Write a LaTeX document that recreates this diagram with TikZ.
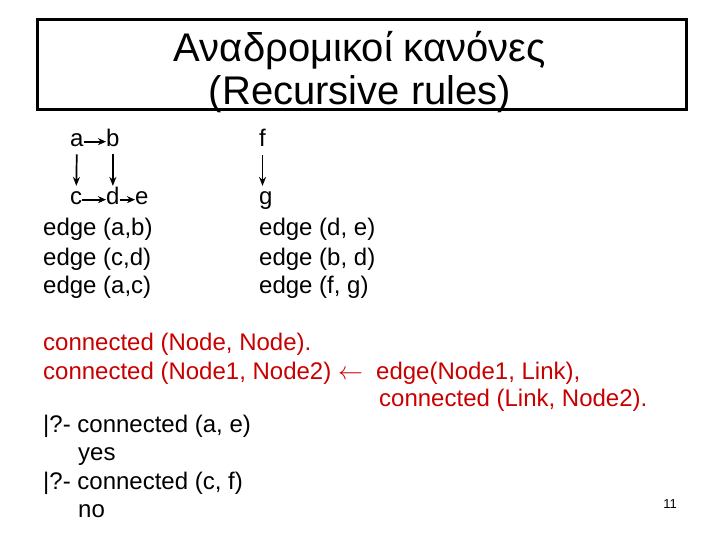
\documentclass[tikz,border=0pt]{standalone}
\usepackage{fontspec}
\setmainfont{Liberation Sans}
\usetikzlibrary{arrows.meta}
\definecolor{rulered}{RGB}{200,0,0}
\tikzset{
  txt/.style={anchor=base west, inner sep=0pt, font=\fontsize{24}{29}\selectfont},
  letter/.style={txt},
  red txt/.style={txt, text=rulered},
  title/.style={anchor=base, inner sep=0pt, font=\fontsize{40}{46}\selectfont},
  down/.style={-{Stealth[length=9pt,width=7pt]}, line width=1.7pt, shorten <=7pt, shorten >=6pt},
  side/.style={-{Stealth[length=8pt,width=7pt]}, line width=1.7pt}
}
\begin{document}
\begin{tikzpicture}[x=1pt,y=-1pt]
\useasboundingbox (0,0) rectangle (720,540);
% title box
\draw[line width=3pt] (37,20) rectangle (686,110);
\node[title] (t1) at (360,62) {Αναδρομικοί κανόνες};
\node[title] (t2) at (360,105) {(Recursive rules)};
% graph
\node[letter] (a) at (70,147) {a};
\node[letter] (b) at (106,147) {b};
\node[letter] (c) at (70,205) {c};
\node[letter] (d) at (106,205) {d};
\node[letter] (e) at (135,205) {e};
\node[letter] (f) at (259,147) {f};
\node[letter] (g) at (259,205) {g};
\draw[side] ([yshift=-1pt]a.east) -- ([yshift=-1pt]a.east -| b.west);
\draw[side] ([yshift=-1pt]c.east) -- ([yshift=-1pt]c.east -| d.west);
\draw[side] ([yshift=-1pt]e.west -| d.east) -- ([yshift=-1pt]e.west);
\draw[down] (a.south) -- (c.north);
\draw[down] (b.south) -- (b.south |- c.north);
\draw[down, shorten <=8pt] (f.south) -- (f.south |- g.north);
% facts
\node[txt] (e1) at (43,236) {edge (a,b)};
\node[txt] (e2) at (43,265) {edge (c,d)};
\node[txt] (e3) at (43,293) {edge (a,c)};
\node[txt] (e4) at (259,236) {edge (d, e)};
\node[txt] (e5) at (259,265) {edge (b, d)};
\node[txt] (e6) at (259,293) {edge (f, g)};
% rules
\node[red txt] (r1) at (43,350) {connected (Node, Node).};
\node[red txt] (r2) at (43,379) {connected (Node1, Node2) $\leftarrow$};
\node[red txt] (r3) at (376,379) {edge(Node1, Link),};
\node[red txt] (r4) at (379,406) {connected (Link, Node2).};
% queries
\node[txt] (q1) at (43,432) {|?- connected (a, e)};
\node[txt] (y1) at (78,460) {yes};
\node[txt] (q2) at (43,489) {|?- connected (c, f)};
\node[txt] (n1) at (78,517) {no};
\node[anchor=base east, inner sep=0pt, font=\fontsize{13}{15}\selectfont] (pg) at (677,508) {11};
\end{tikzpicture}
\end{document}
